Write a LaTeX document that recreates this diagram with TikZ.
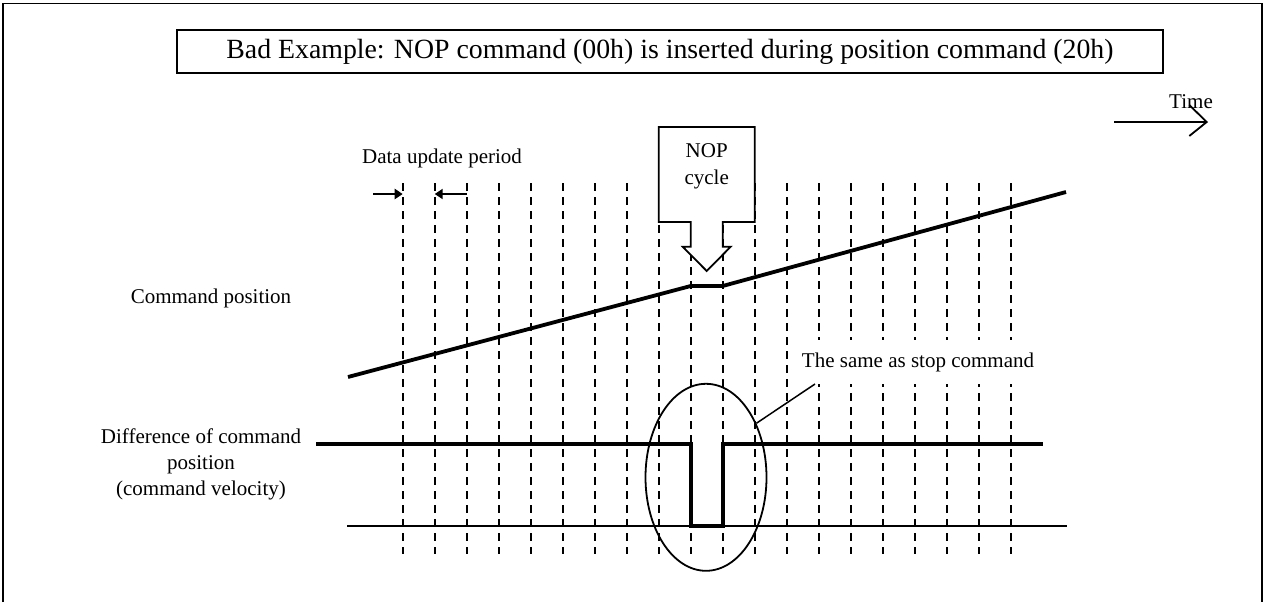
\documentclass[tikz,border=0pt]{standalone}
\usepackage{fontspec}
\setmainfont{Liberation Serif}
\usetikzlibrary{arrows.meta,shapes.geometric}
\begin{document}
\begin{tikzpicture}[x=1pt,y=-1pt,
  lbl/.style={font=\fontsize{21}{26}\selectfont, inner sep=0pt, align=center},
  gridline/.style={line width=1.8pt, dash pattern=on 8pt off 6pt},
  heavy/.style={line width=3.8pt, line join=miter},
  thinline/.style={line width=2pt},
  outline/.style={line width=1.8pt},
  dimarrow/.style={line width=2pt, -{Triangle[length=8pt,width=10pt]}},
]
\useasboundingbox (0,0) rectangle (1265,602);
% outer frame (open at the bottom)
\draw[line width=1.5pt] (3,602) -- (3,3.5) -- (1262,3.5) -- (1262,602);
% title
\node[draw, line width=1.8pt, minimum width=986pt, minimum height=43pt, inner sep=0pt,
      font=\fontsize{27.8}{30}\selectfont] (title) at (670,51.5)
  {Bad Example: NOP command (00h) is inserted during position command (20h)};
% time arrow
\coordinate (t0) at (1114,122);
\coordinate (t1) at (1206.7,122);
\coordinate (tw1) at (1189.3,105);
\coordinate (tw2) at (1189.3,136);
\node[lbl] (time) at (1191,102) {Time};
\draw[line width=1.8pt] (t0) -- (t1);
\draw[line width=1.8pt] (tw1) -- (t1) -- (tw2);
% dashed period lines
\foreach \i in {0,...,19}{
  \coordinate (g\i a) at ({402.7+32*\i},183);
  \coordinate (g\i b) at ({402.7+32*\i},554);
  \draw[gridline] (g\i a) -- (g\i b);
}
% data update period
\node[lbl] (dup) at (442,158) {Data update period};
\coordinate (d0) at (373,194);
\coordinate (d1) at (402.7,194);
\coordinate (d2) at (466.7,194);
\coordinate (d3) at (434.7,194);
\draw[dimarrow] (d0) -- (d1);
\draw[dimarrow] (d2) -- (d3);
% NOP cycle box with hollow arrow
\draw[outline, fill=white, line join=miter]
  (658.7,127) -- (754.7,127) -- (754.7,222) -- (722.7,222) -- (722.7,246.7)
  -- (730.7,246.7) -- (706.7,271) -- (682.7,246.7) -- (690.7,246.7)
  -- (690.7,222) -- (658.7,222) -- cycle;
\node[lbl, font=\fontsize{21}{27}\selectfont] (nop) at (706.7,166) {NOP\\cycle};
% labels
\node[lbl] (cpos) at (211,298) {Command position};
\node[lbl] (diff) at (201,464) {Difference of command\\position\\(command velocity)};
% command position curve
\coordinate (p0) at (348,377);
\coordinate (p1) at (690.7,286);
\coordinate (p2) at (722.7,286);
\coordinate (p3) at (1066,192);
\draw[heavy] (p0) -- (p1) -- (p2) -- (p3);
% velocity
\coordinate (b0) at (347,525.7);
\coordinate (b1) at (1067,525.7);
\draw[thinline] (b0) -- (b1);
\coordinate (v0) at (316,444.3);
\coordinate (v1) at (690.7,444.3);
\coordinate (v2) at (690.7,525.7);
\coordinate (v3) at (722.7,525.7);
\coordinate (v4) at (722.7,444.3);
\coordinate (v5) at (1043,444.3);
\draw[heavy] (v0) -- (v1) -- (v2) -- (v3) -- (v4) -- (v5);
% ellipse and callout
\node[draw, ellipse, outline, minimum width=121pt, minimum height=187pt, inner sep=0pt] (ell) at (706,477.3) {};
\fill[white] (800,340) rectangle (1042,384);
\node[lbl, anchor=base] (same) at (918,367) {The same as stop command};
\coordinate (c1) at (815,384);
\draw[line width=1.5pt] (ell.47) -- (c1);
\end{tikzpicture}
\end{document}
